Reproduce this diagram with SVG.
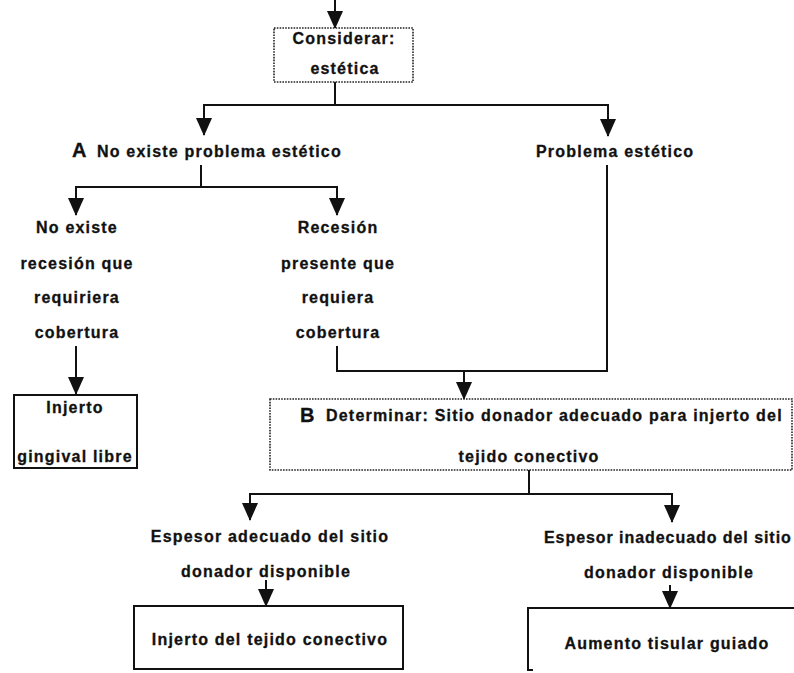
<svg xmlns="http://www.w3.org/2000/svg" width="794" height="673" viewBox="0 0 794 673">
  <style>
    text { font-family: "Liberation Sans", Arial, sans-serif; font-weight: bold; font-size: 16px; letter-spacing: 1.2px; fill: #111; stroke: #111; stroke-width: 0.3px; }
    .c { text-anchor: middle; }
    .big { font-size: 20px; letter-spacing: 0; }
    .line { fill: none; stroke: #111; stroke-width: 2; }
    .arrow { fill: none; stroke: #111; stroke-width: 2; marker-end: url(#head); }
    .dotted { fill: #fff; stroke: #222; stroke-width: 1.6; stroke-dasharray: 1.6 1.2; }
    .solid { fill: #fff; stroke: #111; stroke-width: 2; }
  </style>
  <defs>
    <marker id="head" viewBox="0 0 18 16" refX="17" refY="8" markerWidth="18" markerHeight="16" markerUnits="userSpaceOnUse" orient="auto">
      <path d="M0,0 L18,8 L0,16 z" fill="#111"/>
    </marker>
  </defs>
  <rect width="794" height="673" fill="#fff"/>

  <g id="connectors">
    <path class="arrow" d="M335,0 V28"/>
    <path class="line" d="M335,82 V105 M204,105 H608"/>
    <path class="arrow" d="M204,104 V135"/>
    <path class="arrow" d="M608,104 V136"/>
    <path class="line" d="M201,165 V187 M76,187 H337"/>
    <path class="arrow" d="M76,186 V215"/>
    <path class="arrow" d="M337,186 V215"/>
    <path class="arrow" d="M76,346 V394"/>
    <path class="line" d="M337,346 V371 H607 V165"/>
    <path class="arrow" d="M464,371 V399"/>
    <path class="line" d="M529,470 V494 M250,494 H672"/>
    <path class="arrow" d="M250,493 V520"/>
    <path class="arrow" d="M672,493 V522"/>
    <path class="arrow" d="M266,580 V606"/>
    <path class="arrow" d="M670,585 V608"/>
  </g>

  <g id="considerar">
    <rect class="dotted" x="274" y="28" width="139" height="54"/>
    <text class="c" x="344" y="44">Considerar:</text>
    <text class="c" x="345" y="74">estética</text>
  </g>

  <g id="sin-problema">
    <text class="big" x="72" y="157">A</text>
    <text x="97" y="157">No existe problema estético</text>
  </g>

  <g id="problema">
    <text x="536" y="157">Problema estético</text>
  </g>

  <g id="sin-recesion">
    <text class="c" x="77" y="233">No existe</text>
    <text class="c" x="77" y="269">recesión que</text>
    <text class="c" x="77" y="303">requiriera</text>
    <text class="c" x="77" y="338">cobertura</text>
  </g>

  <g id="recesion">
    <text class="c" x="338" y="233">Recesión</text>
    <text class="c" x="338" y="269">presente que</text>
    <text class="c" x="338" y="303">requiera</text>
    <text class="c" x="338" y="338">cobertura</text>
  </g>

  <g id="injerto-gingival">
    <rect class="solid" x="14" y="395" width="123" height="73"/>
    <text class="c" x="75" y="413">Injerto</text>
    <text class="c" x="75" y="462">gingival libre</text>
  </g>

  <g id="determinar">
    <rect class="dotted" x="270" y="399" width="522" height="71"/>
    <text class="big" x="300" y="422">B</text>
    <text x="326" y="421">Determinar: Sitio donador adecuado para injerto del</text>
    <text class="c" x="529" y="462">tejido conectivo</text>
  </g>

  <g id="espesor-adecuado">
    <text class="c" x="270" y="542">Espesor adecuado del sitio</text>
    <text class="c" x="266" y="577">donador disponible</text>
  </g>

  <g id="espesor-inadecuado">
    <text x="544" y="543" textLength="248" lengthAdjust="spacing">Espesor inadecuado del sitio</text>
    <text class="c" x="669" y="578">donador disponible</text>
  </g>

  <g id="injerto-conectivo">
    <rect class="solid" x="134" y="606" width="269" height="63"/>
    <text class="c" x="270" y="645">Injerto del tejido conectivo</text>
  </g>

  <g id="aumento-tisular">
    <path class="line" d="M800,608 H528 V670 H533"/>
    <text class="c" x="667" y="649">Aumento tisular guiado</text>
  </g>
</svg>
